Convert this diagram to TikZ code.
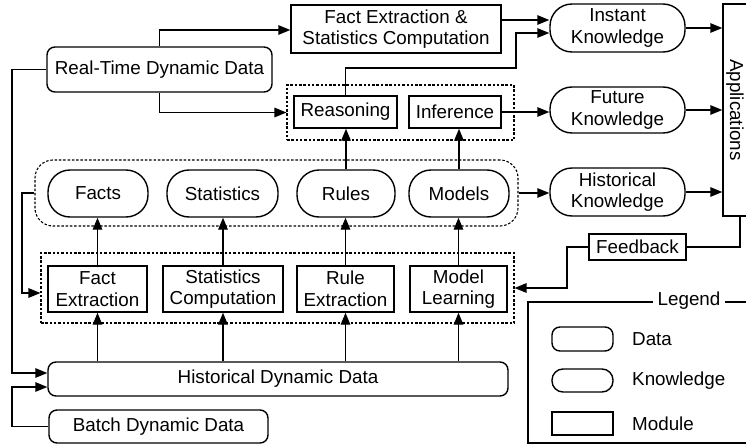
\documentclass[tikz,border=0pt]{standalone}
\usepackage{fontspec}
\setmainfont{Liberation Sans}
\usetikzlibrary{arrows.meta,calc}
\begin{document}
\begin{tikzpicture}[x=1pt,y=-1pt,
  every node/.style={font=\fontsize{18.8}{21.5}\selectfont, inner sep=0pt, align=center},
  box/.style={draw, line width=1.4pt, rectangle},
  datab/.style={box, rounded corners=8pt},
  know/.style={box, rounded corners=22pt},
  grp/.style={draw, line width=1.1pt, dash pattern=on 2.5pt off 1.8pt},
  ln/.style={line width=1.4pt},
  arr/.style={line width=1.4pt, -{Triangle[length=12pt,width=9.5pt]}}
]
\useasboundingbox (0,0) rectangle (746,444);
\clip (0,0) rectangle (746,444);

% groups
\node[grp, minimum width=227pt, minimum height=55pt] (rg) at (400.5,112.5) {};
\node[grp, rounded corners=18pt, minimum width=483pt, minimum height=66pt] (dg) at (276.5,193) {};
\node[grp, minimum width=473pt, minimum height=70pt] (mg) at (277.5,288) {};

% data
\node[datab, minimum width=225pt, minimum height=45pt] (rt) at (159.5,69.5) {Real-Time Dynamic Data};
\node[datab, minimum width=460pt, minimum height=34pt] (hdd) at (278,379) {Historical Dynamic Data};
\node[datab, minimum width=219pt, minimum height=33pt] (bdd) at (158.5,426.5) {Batch Dynamic Data};

% modules
\node[box, minimum width=210pt, minimum height=48pt] (fe) at (396,29) {Fact Extraction \&\\Statistics Computation};
\node[box, minimum width=103pt, minimum height=32pt] (rs) at (345.5,112) {Reasoning};
\node[box, minimum width=92pt, minimum height=32pt] (inf) at (455,112) {Inference};
\node[box, minimum width=99pt, minimum height=46pt] (m1) at (97.5,289) {Fact\\Extraction};
\node[box, minimum width=120pt, minimum height=46pt] (m2) at (223,289) {Statistics\\Computation};
\node[box, minimum width=97pt, minimum height=46pt] (m3) at (345.5,289) {Rule\\Extraction};
\node[box, minimum width=97pt, minimum height=46pt] (m4) at (458.5,289) {Model\\Learning};
\node[box, minimum width=97pt, minimum height=26pt] (fb) at (637.5,247) {Feedback};
\node[box, minimum width=30pt, minimum height=212pt] (app) at (738,110) {};
\node[rotate=-90] (appt) at (735,110) {Applications};

% knowledge
\node[know, minimum width=100pt, minimum height=47pt] (facts) at (98,193.5) {Facts};
\node[know, minimum width=111pt, minimum height=47pt] (stats) at (222.5,193.5) {Statistics};
\node[know, minimum width=98pt, minimum height=47pt] (rules) at (346,193.5) {Rules};
\node[know, minimum width=100pt, minimum height=47pt] (models) at (459,193.5) {Models};
\node[know, minimum width=135pt, minimum height=48pt] (ik) at (617.5,28) {Instant\\Knowledge};
\node[know, minimum width=135pt, minimum height=46pt] (fk) at (617.5,110) {Future\\Knowledge};
\node[know, minimum width=135pt, minimum height=48pt] (hk) at (617.5,192) {Historical\\Knowledge};

% connectors
\draw[arr] (rt.north) |- (fe.west |- 0,30);
\draw[arr] (rt.south) |- (rg.west);
\draw[arr] (fe.east |- 0,20) -- (ik.west |- 0,20);
\draw[arr] (rs.north) |- (516,68) |- (ik.west |- 0,33);
\draw[arr] (inf.east) -- (fk.west |- inf.east);
\draw[arr] (ik.east) -- (app.west |- ik.east);
\draw[arr] (fk.east) -- (app.west |- fk.east);
\draw[arr] (hk.east) -- (app.west |- hk.east);
\draw[arr] (dg.east) -- (hk.west |- dg.east);
\draw[arr] (rules.north) -- (rules.north |- rs.south);
\draw[arr] (models.north) -- (models.north |- inf.south);
\draw[arr] (m1.north) -- (m1.north |- facts.south);
\draw[arr] (m2.north) -- (m2.north |- stats.south);
\draw[arr] (m3.north) -- (m3.north |- rules.south);
\draw[arr] (m4.north) -- (m4.north |- models.south);
\draw[arr] (hdd.north -| m1.south) -- (m1.south);
\draw[arr] (hdd.north -| m2.south) -- (m2.south);
\draw[arr] (hdd.north -| m3.south) -- (m3.south);
\draw[arr] (hdd.north -| m4.south) -- (m4.south);
\draw[ln] (app.south -| 740,0) |- (fb.east);
\draw[arr] (fb.west) -| (567,288) -- (mg.east);
\draw[arr] (dg.west) -| (22,293) -- (mg.west |- 0,293);
\draw[arr] (rt.west) -| (12,373) -- (hdd.west |- 0,373);
\draw[arr] (bdd.west) -| (12,387) -- (hdd.west |- 0,387);

% legend
\node[box, minimum width=224pt, minimum height=141pt] (lg) at (640,372.5) {};
\node[fill=white, inner xsep=5pt, inner ysep=2pt] (lgt) at (689,301) {Legend};
\node[datab, minimum width=61pt, minimum height=24pt] (ld) at (582.5,339) {};
\node[know, rounded corners=11pt, minimum width=61pt, minimum height=23pt] (lk) at (582.5,380.5) {};
\node[box, minimum width=61pt, minimum height=23pt] (lm) at (582.5,423.5) {};
\node[anchor=west] (ldt) at (632,339) {Data};
\node[anchor=west] (lkt) at (632,380.5) {Knowledge};
\node[anchor=west] (lmt) at (632,423.5) {Module};
\end{tikzpicture}
\end{document}
